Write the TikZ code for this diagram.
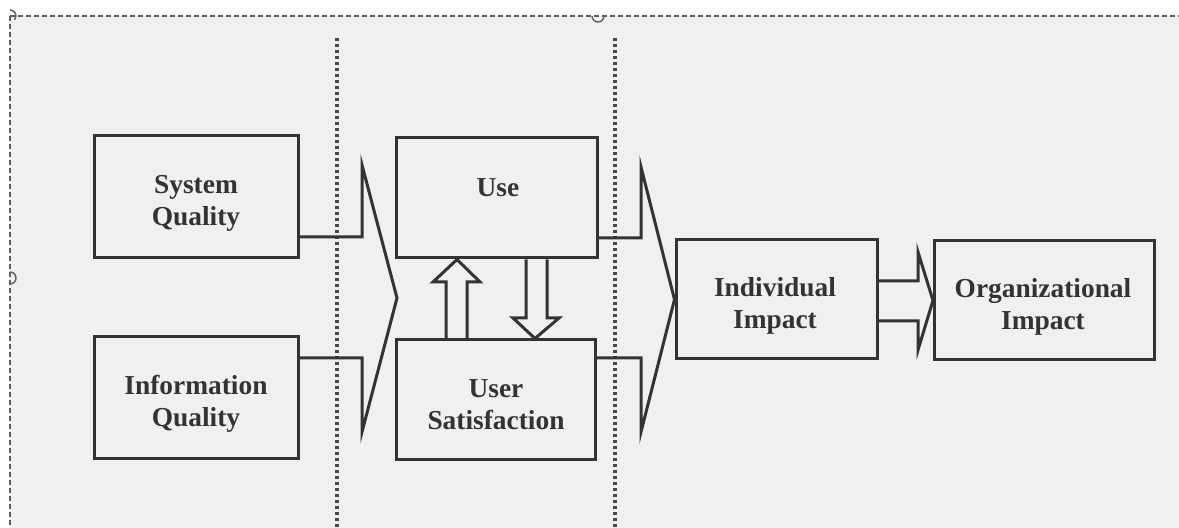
\documentclass[tikz,border=0pt]{standalone}
\usepackage{fontspec}
\setmainfont{Liberation Serif}
\usetikzlibrary{calc}
\definecolor{bg}{HTML}{F0F0F0}
\definecolor{ink}{HTML}{333333}
\definecolor{frame}{HTML}{606060}
\tikzset{
  box/.style={draw=ink, line width=1.5pt, fill=none, inner sep=0pt},
  lbl/.style={text=ink, font=\fontsize{13.7}{16}\selectfont\bfseries, align=center, inner sep=0pt},
  conn/.style={draw=ink, line width=1.5pt, line join=miter},
  divider/.style={draw=ink!90, line width=1.6pt, dash pattern=on 1.5pt off 1.5pt},
  selframe/.style={draw=frame, line width=0.6pt, dash pattern=on 2.5pt off 1.5pt},
  handle/.style={draw=frame, line width=0.7pt}
}
\begin{document}
\begin{tikzpicture}[x=0.5pt, y=-0.5pt]
\useasboundingbox (0,0) rectangle (1179,528);
\fill[white] (0,0) rectangle (1179,528);
\fill[bg] (10,16) rectangle (1179,528);
% selection frame
\draw[selframe] (10,16) -- (1179,16);
\draw[selframe] (10,16) -- (10,528);
\draw[handle] (592,16) arc[start angle=180, end angle=0, radius=6];
\draw[handle] (10,272) arc[start angle=270, end angle=450, radius=6];
\draw[handle] (10,10) arc[start angle=270, end angle=400, radius=6];
% dotted dividers
\coordinate (d1t) at (337,38); \coordinate (d1b) at (337,528);
\coordinate (d2t) at (615,38); \coordinate (d2b) at (615,528);
\draw[divider] (d1t) -- (d1b);
\draw[divider] (d2t) -- (d2b);
% boxes
\node[box, minimum width=102pt, minimum height=61pt] (sq) at (196,197) {};
\node[box, minimum width=102pt, minimum height=61pt] (iq) at (196,398) {};
\node[box, minimum width=100.5pt, minimum height=60pt] (use) at (496.5,198) {};
\node[box, minimum width=99.5pt, minimum height=60pt] (us) at (495.5,400) {};
\node[box, minimum width=100.5pt, minimum height=59.5pt] (ii) at (674.5,299.5) [anchor=west] {};
\node[box, minimum width=110pt, minimum height=59.5pt] (oi) at (933,300.5) [anchor=west] {};
% labels
\node[lbl] (sqt) at (196,203) {System\\Quality};
\node[lbl] (iqt) at (196,404) {Information\\Quality};
\node[lbl] (uset) at (498,188) {Use};
\node[lbl] (ust) at (496,405) {User\\Satisfaction};
\node[lbl] (iit) at (775,306) {Individual\\Impact};
\node[lbl] (oit) at (1043,307) {Organizational\\Impact};
% big arrow 1
\draw[conn] (sq.east |- 0,237) -- (362,237) -- (362,165) -- (397,298) -- (362,432) -- (362,358) -- (iq.east |- 0,358);
% big arrow 2
\draw[conn] (use.east |- 0,238) -- (641,238) -- (641,167) -- (ii.west) -- (641,432) -- (641,358) -- (us.east |- 0,358);
% up arrow (satisfaction -> use)
\draw[conn] (446,0 |- us.north) -- (446,282) -- (433,282) -- (457,0 |- use.south) -- (480,282) -- (467,282) -- (467,0 |- us.north);
% down arrow (use -> satisfaction)
\draw[conn] (526,0 |- use.south) -- (526,318) -- (513,318) -- (535,0 |- us.north) -- (559,318) -- (547,318) -- (547,0 |- use.south);
% small arrow individual -> organizational
\draw[conn] (ii.east |- 0,281) -- (918,281) -- (918,252) -- (oi.west) -- (918,350) -- (918,321) -- (ii.east |- 0,321);
\end{tikzpicture}
\end{document}
